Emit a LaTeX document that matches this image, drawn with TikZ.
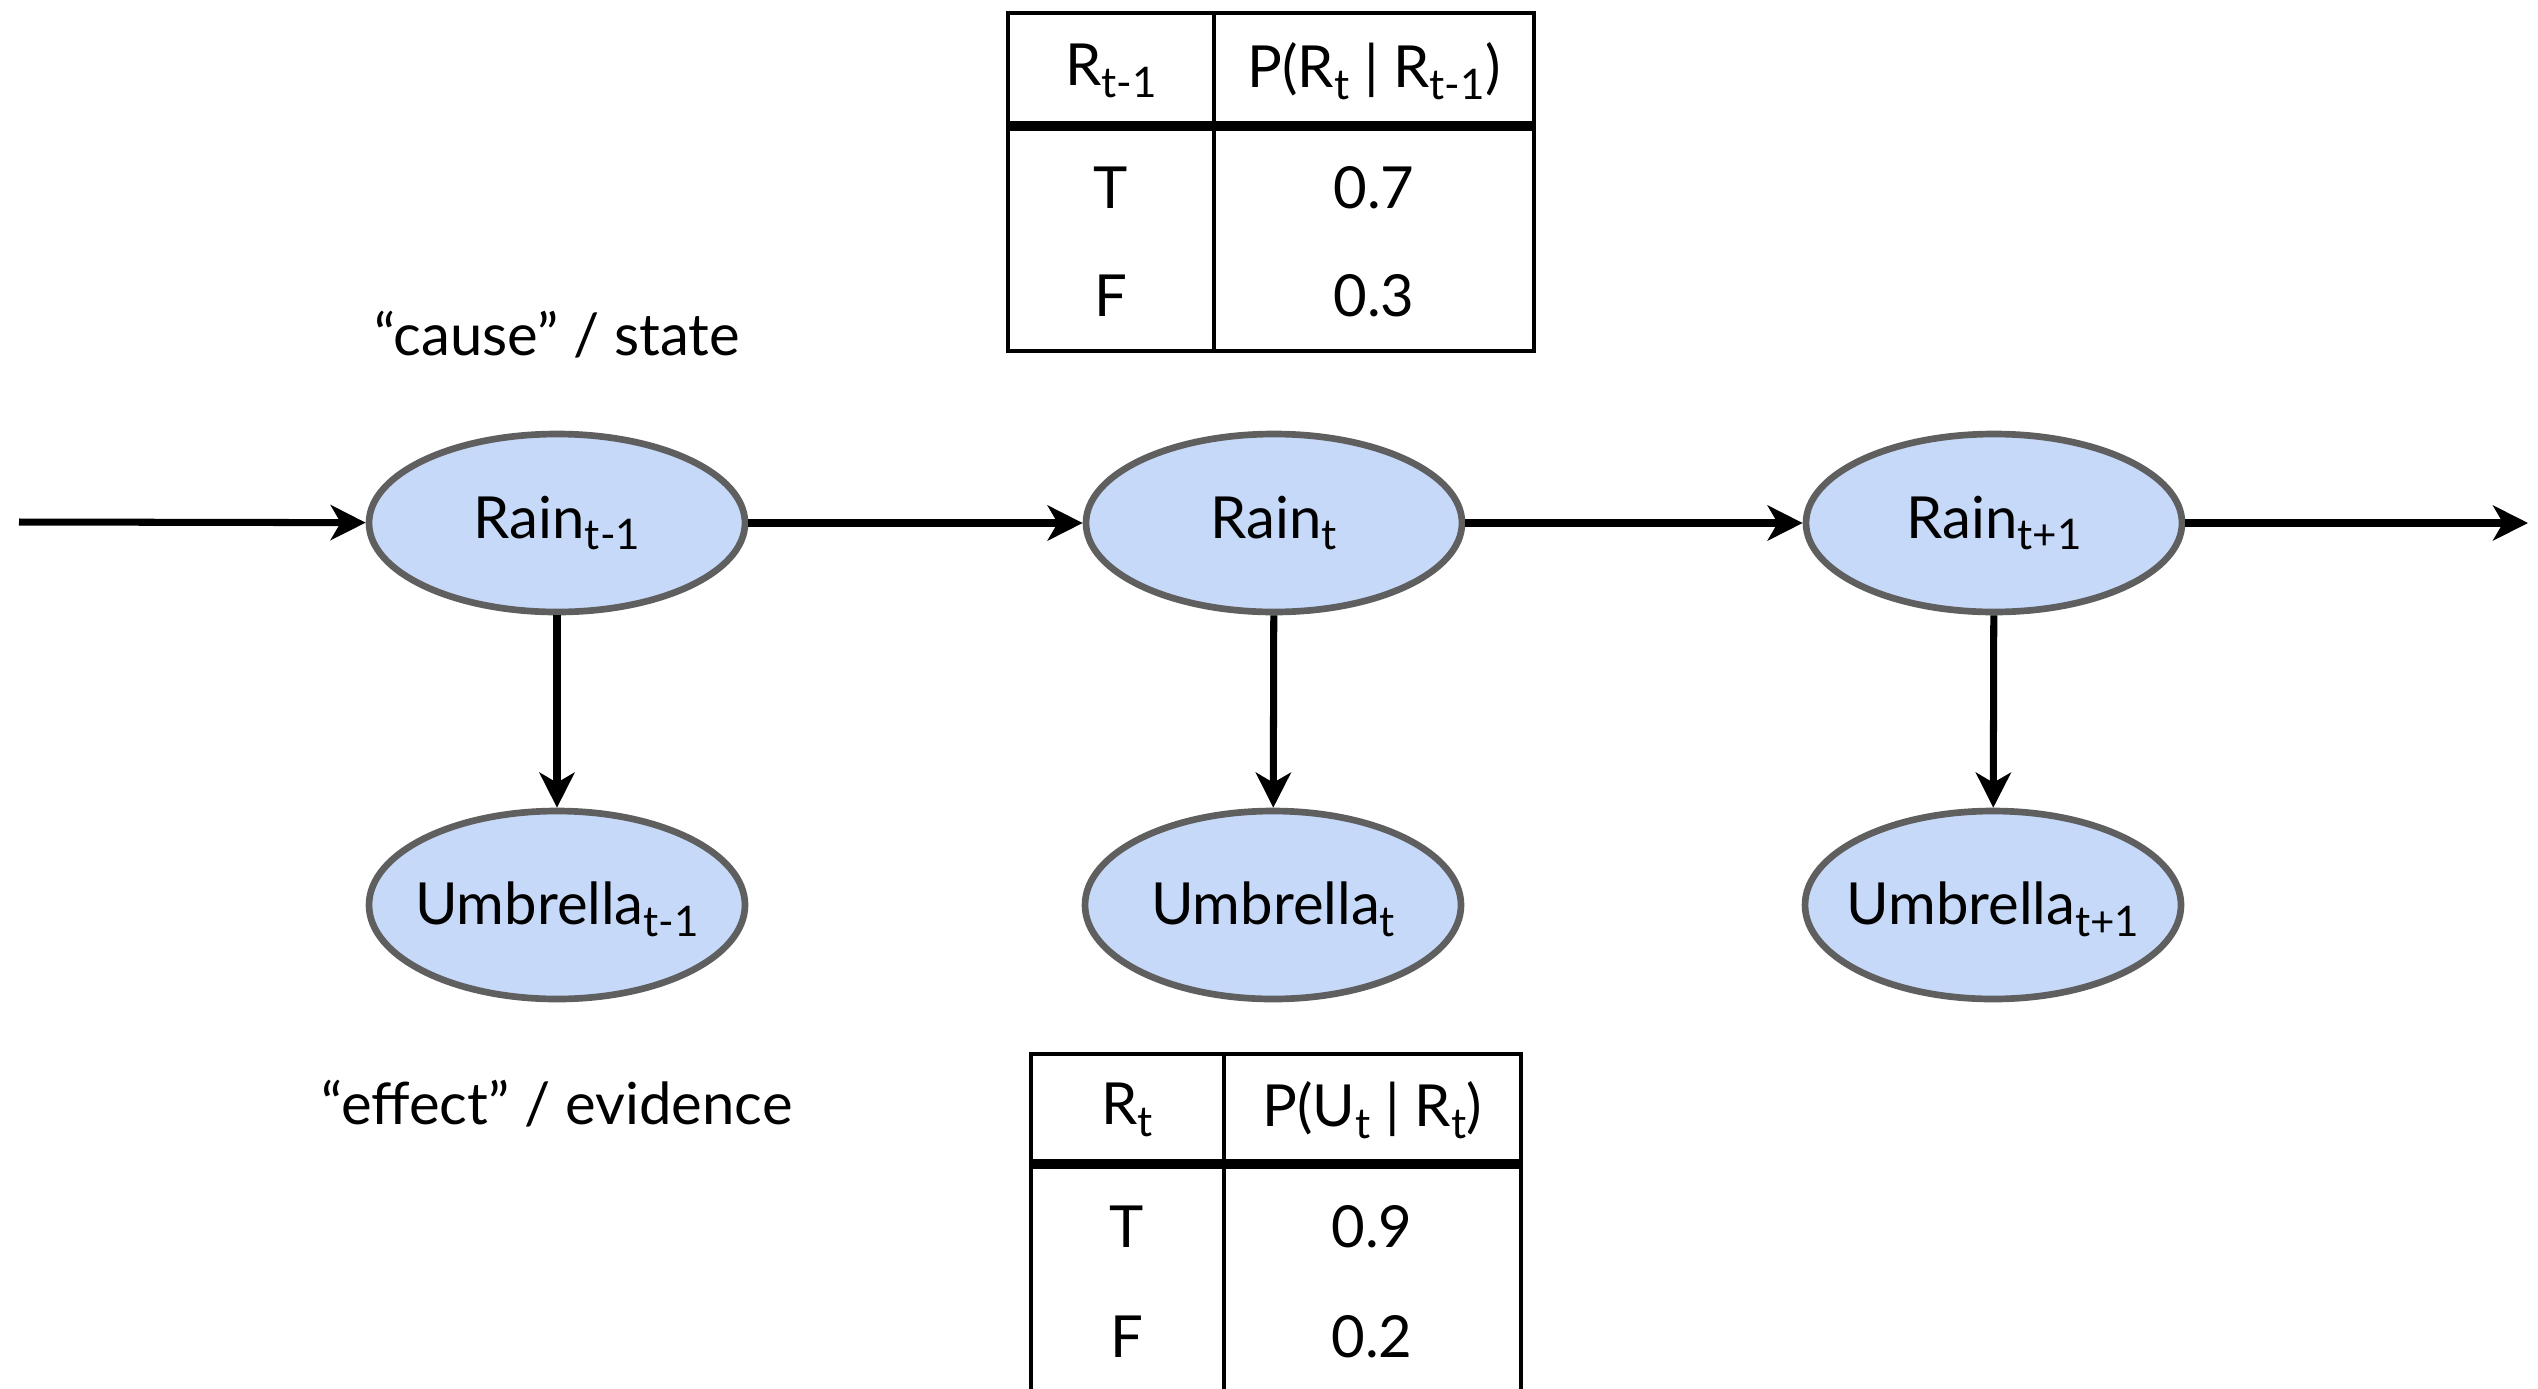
\documentclass[tikz,border=0pt]{standalone}
\usepackage{fontspec}
\setmainfont{Lato}
\usetikzlibrary{arrows.meta,shapes.geometric}
\newcommand\subt[1]{\raisebox{-0.4ex}{\fontsize{12}{14}\selectfont #1}}
\definecolor{nodefill}{HTML}{C6D9F8}
\definecolor{nodeline}{HTML}{5F5F5F}
\tikzset{
  var/.style={ellipse, draw=nodeline, line width=1.9pt, fill=nodefill, minimum width=3.76cm, minimum height=1.78cm, inner sep=0pt},
  evar/.style={var, minimum height=1.88cm},
  vartext/.style={inner sep=0pt, font=\fontsize{16.5}{19}\selectfont},
  link/.style={line width=2pt, -{Stealth[length=3.5mm,width=3.5mm,inset=1mm]}},
  lbl/.style={font=\fontsize{16.5}{19}\selectfont, inner sep=0pt},
  cell/.style={font=\fontsize{16.5}{19}\selectfont, inner sep=0pt, anchor=center},
  tbl/.style={line width=1.4pt},
  tblsep/.style={line width=2.8pt}
}
\begin{document}
\begin{tikzpicture}
\useasboundingbox (0,0) rectangle (25.38,-13.88);
\clip (0,0) rectangle (25.38,-13.88);
% nodes
\node[var] (r1) at (5.57,-5.23) {};
\node[var] (r2) at (12.74,-5.23) {};
\node[var] (r3) at (19.94,-5.23) {};
\node[evar] (u1) at (5.57,-9.05) {};
\node[evar] (u2) at (12.73,-9.05) {};
\node[evar] (u3) at (19.93,-9.05) {};
\node[vartext] (r1t) at (r1) {Rain\subt{t-1}};
\node[vartext] (r2t) at (r2) {Rain\subt{t}};
\node[vartext] (r3t) at (r3) {Rain\subt{t+1}};
\node[vartext] (u1t) at ([yshift=-0.04cm]u1) {Umbrella\subt{t-1}};
\node[vartext] (u2t) at ([yshift=-0.04cm]u2) {Umbrella\subt{t}};
\node[vartext] (u3t) at ([yshift=-0.04cm]u3) {Umbrella\subt{t+1}};
\coordinate (in) at (0.19,-5.22);
\coordinate (out) at (25.28,-5.23);
% connectors
\draw[link] (in) -- (r1);
\draw[link] (r1) -- (r2);
\draw[link] (r2) -- (r3);
\draw[link] (r3) -- (out);
\draw[link] (r1) -- (u1);
\draw[link] (r2) -- (u2);
\draw[link] (r3) -- (u3);
% labels
\node[lbl] (cause) at (5.57,-3.35) {“cause” / state};
\node[lbl] (effect) at (5.57,-11.04) {“effect” / evidence};
% top table
\draw[tbl] (10.08,-0.13) rectangle (15.34,-3.51);
\draw[tbl] (12.14,-0.13) -- (12.14,-3.51);
\draw[tblsep] (10.08,-1.26) -- (15.34,-1.26);
\node[cell] (th1) at (11.11,-0.71) {R\subt{t-1}};
\node[cell] (th2) at (13.74,-0.71) {P(R\subt{t} | R\subt{t-1})};
\node[cell] (tt) at (11.11,-1.88) {T};
\node[cell] (tt2) at (13.74,-1.88) {0.7};
\node[cell] (tf) at (11.11,-2.96) {F};
\node[cell] (tf2) at (13.74,-2.96) {0.3};
% bottom table
\draw[tbl] (10.31,-14.2) -- (10.31,-10.54) -- (15.21,-10.54) -- (15.21,-14.2);
\draw[tbl] (12.24,-10.54) -- (12.24,-14.2);
\draw[tblsep] (10.31,-11.64) -- (15.21,-11.64);
\node[cell] (bh1) at (11.27,-11.10) {R\subt{t}};
\node[cell] (bh2) at (13.72,-11.10) {P(U\subt{t} | R\subt{t})};
\node[cell] (bt) at (11.27,-12.27) {T};
\node[cell] (bt2) at (13.72,-12.27) {0.9};
\node[cell] (bf) at (11.27,-13.37) {F};
\node[cell] (bf2) at (13.72,-13.37) {0.2};
\end{tikzpicture}
\end{document}
